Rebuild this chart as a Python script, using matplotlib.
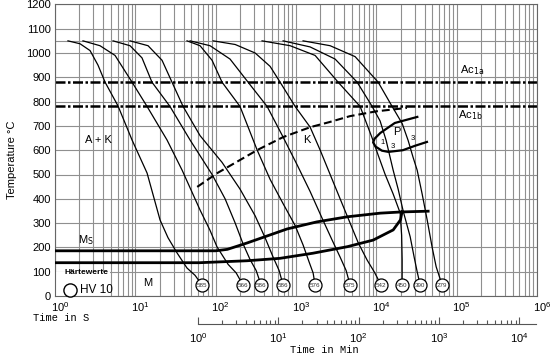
import numpy as np
import matplotlib.pyplot as plt
import matplotlib.transforms as mtransforms
from matplotlib.patches import Rectangle
from matplotlib.ticker import LogLocator, FixedLocator, NullFormatter

# cooling curves: time in s, temperature in degC, ending at the hardness circle
c585_s = [1.45, 2.05, 2.73, 3.43, 4.20, 6.09, 9.10, 14.0, 20.3, 25.5, 33.1, 44.0, 55.4, 67.7]
c585_T = [1050, 1038, 1010, 950, 880, 782, 642, 506, 313, 240, 177, 115, 85, 45]
c566_s = [2.23, 3.63, 5.59, 9.10, 14.0, 24.8, 38.2, 63.9, 85.1, 104, 143, 180, 219]
c566_T = [1050, 1030, 990, 880, 780, 642, 518, 354, 270, 202, 130, 95, 45]
c586a_s = [5.28, 8.59, 12.1, 16.1, 27.0, 48.0, 90.2, 131, 175, 219, 268, 319, 368]
c586a_T = [1050, 1030, 980, 880, 780, 642, 500, 400, 300, 215, 150, 105, 45]
c586b_s = [8.59, 14.4, 21.5, 28.6, 39.3, 63.9, 120, 201, 310, 412, 519, 616, 691]
c586b_T = [1050, 1030, 970, 880, 780, 660, 550, 440, 330, 240, 160, 105, 45]
c576_s = [44.0, 63.9, 90.2, 120, 201, 328, 476, 691, 975, 1225, 1456, 1633, 1729]
c576_T = [1050, 1030, 970, 880, 780, 601, 480, 380, 290, 210, 140, 95, 45]
c575_s = [48.0, 85.1, 151, 253, 437, 691, 1032, 1499, 2113, 2817, 3542, 4206, 4717]
c575_T = [1050, 1030, 975, 880, 780, 654, 540, 430, 320, 230, 160, 105, 45]
c542_s = [92.9, 175, 310, 476, 634, 975, 1499, 1995, 2817, 3750, 4717, 5933, 7678, 9393, 11480]
c542_T = [1050, 1035, 1000, 945, 880, 780, 695, 601, 480, 380, 300, 220, 148, 100, 45]
c450_s = [378, 845, 1729, 3344, 6285, 8872, 10530, 12880, 16190, 19790, 20650, 20960, 20960]
c450_T = [1050, 1030, 990, 880, 780, 650, 580, 500, 420, 342, 250, 150, 45]
c390_s = [691, 1499, 3069, 5768, 8872, 11150, 13250, 14860, 16190, 18680, 21570, 26370, 29560, 32220, 35110]
c390_T = [1050, 1025, 975, 880, 780, 720, 640, 570, 518, 440, 350, 244, 160, 100, 45]
c279_s = [1225, 2659, 5445, 10530, 15730, 20960, 24890, 28710, 32220, 37170, 42940, 49550, 55590, 58880, 65960]
c279_T = [1050, 1030, 985, 880, 780, 710, 640, 570, 518, 420, 313, 200, 120, 95, 45]

hv_s = [67.7, 219, 368, 691, 1729, 4717, 11480, 20960, 35110, 65960]
hv_vals = ['585', '566', '586', '586', '576', '575', '542', '450', '390', '279']
hv_T = 45

# Ms / bainite lines
ms_s = [1, 100, 140, 245, 776, 1820, 4365, 11220, 20890, 44160]
ms_T = [186, 186, 192, 218, 276, 305, 326, 341, 346, 349]
bf_s = [1, 63, 245, 631, 1622, 4365, 9120, 16220, 19950, 20890]
bf_T = [137, 137, 145, 155, 176, 203, 230, 272, 313, 347]

# carbide start (dashed)
k_s = [58.9, 105, 331, 692, 1514, 2630, 4677, 10000, 23990]
k_T = [449, 506, 601, 654, 695, 716, 740, 760, 774]

# pearlite region
p_s = [32360, 16980, 11220, 9550, 9120, 9772, 11750, 14130, 21380, 30200, 42660]
p_T = [737, 712, 671, 648, 632, 615, 598, 593, 600, 618, 634]

ac1a = 880
ac1b = 780
t_aust = 1050

plt.rcParams['font.family'] = ['Liberation Sans', 'DejaVu Sans']
mono = 'Liberation Mono'

fig = plt.figure(figsize=(5.52, 3.55), dpi=100)
ax = fig.add_axes([55/552, 1-296/355, 482/552, 291.6/355])
ax.set_xscale('log')
ax.set_xlim(1, 1e6)
ax.set_ylim(0, 1200)
ax.set_yticks(range(0, 1201, 100))
ax.xaxis.set_major_locator(LogLocator(base=10, numticks=10))
ax.xaxis.set_minor_locator(LogLocator(base=10, subs=np.arange(2, 10), numticks=100))
ax.xaxis.set_minor_formatter(NullFormatter())
ax.set_axisbelow(True)
ax.grid(True, which='both', color='#8f8f8f', lw=0.8)
ax.tick_params(which='both', length=0, labelsize=8, pad=3)
for sp in ax.spines.values():
    sp.set_color('#666666')
    sp.set_linewidth(0.8)
offset = mtransforms.ScaledTranslation(0.05, 0, fig.dpi_scale_trans)
for lab in ax.xaxis.get_majorticklabels():
    lab.set_transform(lab.get_transform() + offset)

ax.axhline(t_aust, color='#8f8f8f', lw=0.8, zorder=1)
ax.axhline(ac1a, color='k', lw=1.8, ls=(0, (4, 1, 1, 1)))
ax.axhline(ac1b, color='k', lw=1.8, ls=(0, (4, 1, 1, 1)))

curves = [(c585_s, c585_T), (c566_s, c566_T), (c586a_s, c586a_T), (c586b_s, c586b_T),
          (c576_s, c576_T), (c575_s, c575_T), (c542_s, c542_T), (c450_s, c450_T),
          (c390_s, c390_T), (c279_s, c279_T)]
for s, T in curves:
    ax.plot(s, T, color='k', lw=0.9, zorder=3)

ax.plot(ms_s, ms_T, color='k', lw=2.0, zorder=3)
ax.plot(bf_s, bf_T, color='k', lw=2.0, zorder=3)
ax.plot(k_s, k_T, color='k', lw=1.5, ls=(0, (3.8, 1.9)), zorder=3)
ax.plot(p_s, p_T, color='k', lw=1.6, zorder=3)

ax.scatter(hv_s, [hv_T]*len(hv_s), s=88, facecolor='white', edgecolor='k', lw=0.9, zorder=4)
for s, v in zip(hv_s, hv_vals):
    ax.text(s, hv_T, v, fontsize=4.5, color='#333333', ha='center', va='center', zorder=5)

# legend box
ax.add_patch(Rectangle((1, 0), 3.85, 100, facecolor='white', edgecolor='none', zorder=1))
ax.text(1.33, 95, 'Härtewerte', fontsize=6, fontweight='bold', ha='left', va='center', zorder=5)
ax.scatter([1.54], [25], s=90, facecolor='white', edgecolor='k', lw=1.0, zorder=4, clip_on=False)
ax.text(2.05, 25, 'HV 10', fontsize=8.5, ha='left', va='center', zorder=5)

ax.text(3.43, 642, 'A + K', fontsize=8, ha='center', va='center')
ax.text(1374, 642, 'K', fontsize=8, ha='center', va='center')
ax.text(18190, 675, 'P', fontsize=8, ha='center', va='center')
ax.text(11800, 630, '1', fontsize=5.5, ha='center', va='center')
ax.text(15800, 617, '3', fontsize=5.5, ha='center', va='center')
ax.text(28700, 650, '3', fontsize=5.5, ha='center', va='center')
ax.text(14.4, 53, 'M', fontsize=8, ha='center', va='center')
ax.text(1.93, 228, r'M$_\mathrm{S}$', fontsize=8, ha='left', va='center')
ax.text(110000, 930, r'Ac$_\mathrm{1a}$', fontsize=8, ha='left', va='center')
ax.text(104000, 745, r'Ac$_\mathrm{1b}$', fontsize=8, ha='left', va='center')

# minutes axis
sec = ax.secondary_xaxis(-28/291.6, functions=(lambda x: x/60, lambda x: x*60))
sec.xaxis.set_major_locator(FixedLocator([1, 10, 100, 1000, 10000]))
sec.xaxis.set_minor_locator(FixedLocator([m*10**k for k in range(5) for m in range(2, 10) if m*10**k < 16000]))
sec.xaxis.set_minor_formatter(NullFormatter())
sec.spines['bottom'].set_bounds(1, 16000)
sec.spines['bottom'].set_color('#555555')
sec.tick_params(which='major', direction='in', length=5, width=0.8, color='#555555', labelsize=8, pad=5)
sec.tick_params(which='minor', direction='in', length=3, width=0.8, color='#555555')

fig.text(12/552, 1-160/355, 'Temperature °C', rotation=90, fontsize=8, ha='center', va='center')
fig.text(33/552, 1-318/355, 'Time in S', family=mono, fontsize=7.5, ha='left', va='center')
fig.text(324/552, 1-350/355, 'Time in Min', family=mono, fontsize=7.5, ha='center', va='center')

fig.savefig('out.png', dpi=100)
